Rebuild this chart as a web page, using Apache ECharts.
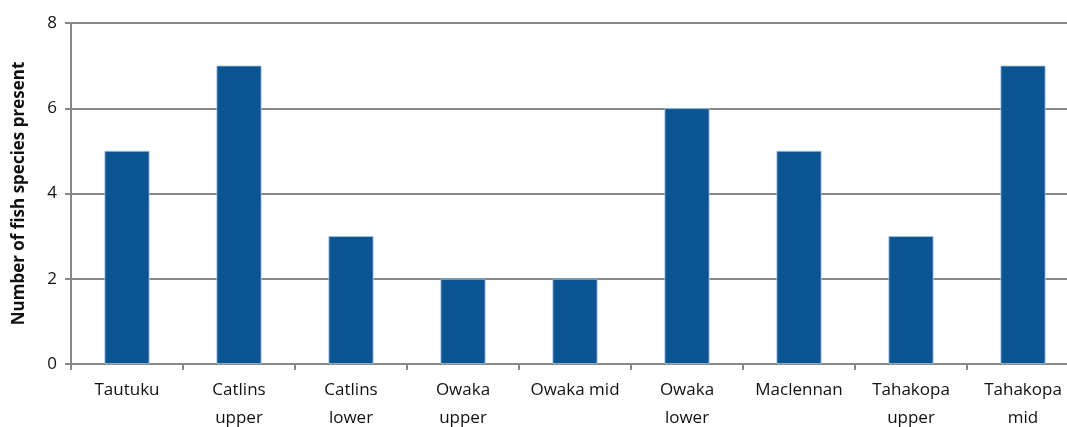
<!DOCTYPE html>
<html>
<head>
<meta charset="utf-8">
<script src="https://cdn.jsdelivr.net/npm/echarts@6/dist/echarts.min.js"></script>
<style>
  html, body { margin: 0; padding: 0; background: #fff; }
  #chart { width: 1067px; height: 427px; }
</style>
</head>
<body>
<div id="chart"></div>
<script>
var sites = ['Tautuku', 'Catlins\nupper', 'Catlins\nlower', 'Owaka\nupper', 'Owaka mid',
             'Owaka\nlower', 'Maclennan', 'Tahakopa\nupper', 'Tahakopa\nmid'];
var speciesCount = [5, 7, 3, 2, 2, 6, 5, 3, 7];

var myChart = echarts.init(document.getElementById('chart'));
var option = {
    animation: false,
    textStyle: { fontFamily: '"Open Sans", sans-serif' },
    // plot area runs a little past the right edge, as in the original
    grid: { left: 71, right: -12, top: 23, bottom: 63, outerBoundsMode: 'none', containLabel: false },
    xAxis: {
        type: 'category',
        data: sites,
        axisLine: { lineStyle: { color: '#888', width: 2 } },
        axisTick: { show: true, interval: 0, length: 6, lineStyle: { color: '#888', width: 2 } },
        axisLabel: { interval: 0, hideOverlap: false, color: '#111', fontSize: 17, lineHeight: 28, margin: 12 }
    },
    yAxis: {
        type: 'value',
        min: 0, max: 8, interval: 2,
        name: 'Number of fish species present',
        nameLocation: 'middle',
        nameGap: 43,
        nameTextStyle: { color: '#111', fontSize: 17, fontWeight: 'bold' },
        axisLine: { show: true, lineStyle: { color: '#888', width: 2 } },
        axisTick: { show: true, length: 6, lineStyle: { color: '#888', width: 2 } },
        axisLabel: { color: '#111', fontSize: 17, margin: 14 },
        splitLine: { lineStyle: { color: '#888', width: 2 } }
    },
    series: [{
        type: 'bar',
        data: speciesCount,
        barWidth: 45,
        itemStyle: { color: '#0a5591', borderColor: '#a9c4dc', borderWidth: 0.8 }
    }]
};
myChart.setOption(option);
window.addEventListener('resize', function () { myChart.resize(); });
</script>
</body>
</html>
